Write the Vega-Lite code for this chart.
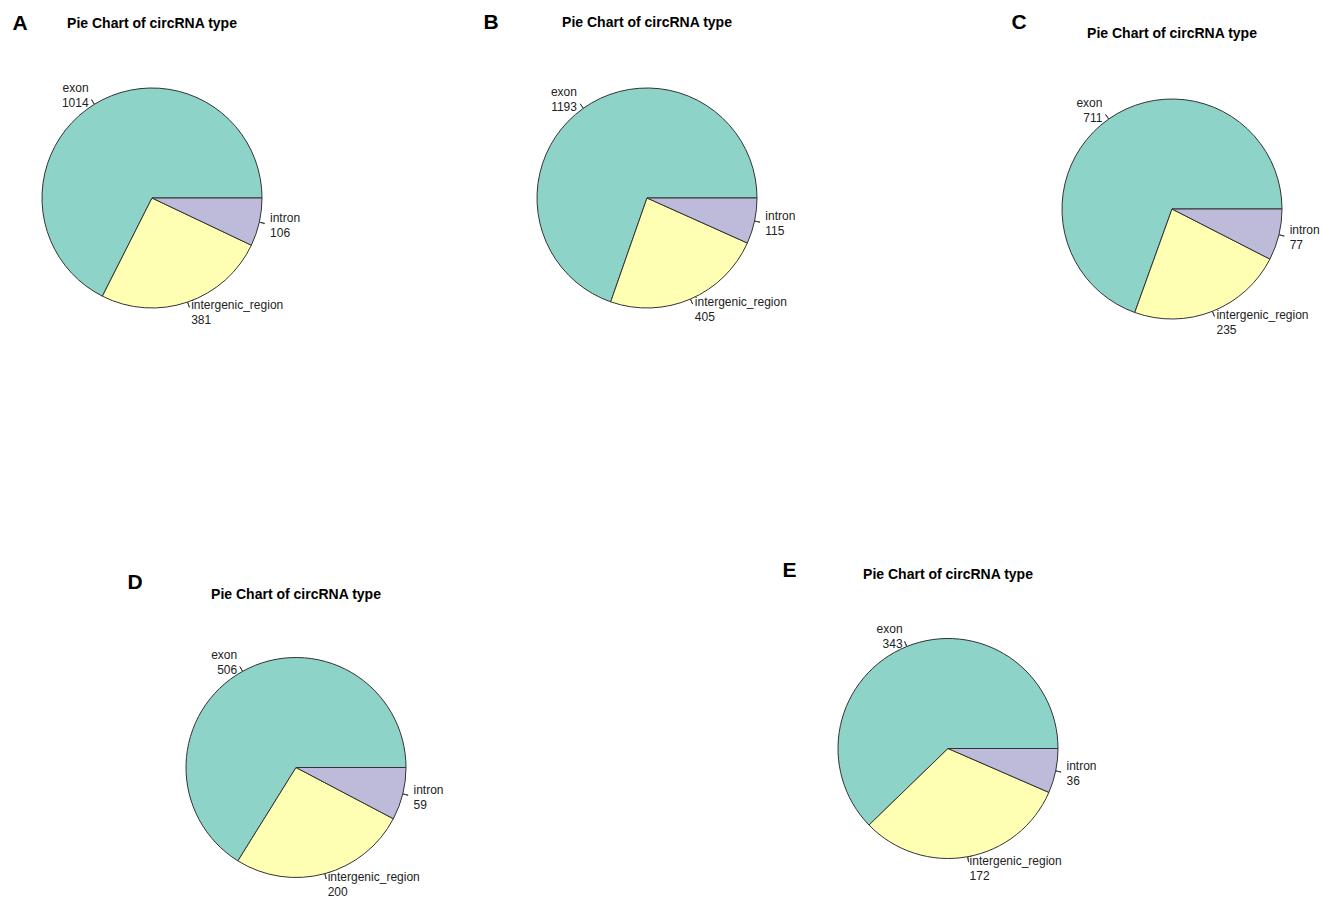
{
  "$schema": "https://vega.github.io/schema/vega-lite/v6.json",
  "background": "white",
  "padding": {"left": 12, "top": 11, "right": 5, "bottom": 5},
  "bounds": "flush",
  "spacing": 550.5,
  "config": {
    "view": {"stroke": null},
    "title": {"font": "Liberation Sans", "fontSize": 14, "fontWeight": "bold", "color": "#000000", "baseline": "alphabetic"},
    "text": {"font": "Liberation Sans", "fontSize": 12, "color": "#222222", "lineBreak": "\n", "lineHeight": 15, "baseline": "middle", "dy": -7}
  },
  "vconcat": [
    {
      "bounds": "flush",
      "spacing": 495,
      "hconcat": [
        {
          "title": {"text": "A", "anchor": "start", "frame": "group", "fontSize": 21, "dx": -19.5, "offset": -16.5},
          "bounds": "flush",
          "vconcat": [
            {
              "title": {"text": "Pie Chart of circRNA type", "offset": 47},
              "width": 240,
              "height": 240,
              "data": {"values": [
                {"type": "exon", "count": 1014},
                {"type": "intergenic_region", "count": 381},
                {"type": "intron", "count": 106}
              ]},
              "transform": [
                {"joinaggregate": [{"op": "sum", "field": "count", "as": "total"}]},
                {"calculate": "indexof(['intron','intergenic_region','exon'], datum.type)", "as": "ord"},
                {"stack": "count", "groupby": [], "sort": [{"field": "ord", "order": "ascending"}], "as": ["c0", "c1"]},
                {"calculate": "datum.c0 / datum.total", "as": "f0"},
                {"calculate": "datum.c1 / datum.total", "as": "f1"},
                {"calculate": "(datum.f0 + datum.f1) / 2", "as": "fm"},
                {"calculate": "datum.type + '\\n' + datum.count", "as": "lbl"}
              ],
              "layer": [
                {
                  "mark": {"type": "arc", "radius": 110, "stroke": "#333333", "strokeWidth": 1},
                  "encoding": {
                    "theta": {"field": "f0", "type": "quantitative", "scale": {"domain": [0, 1], "range": [1.5708, 7.854]}},
                    "theta2": {"field": "f1"},
                    "color": {"field": "type", "type": "nominal", "legend": null,
                      "scale": {"domain": ["exon", "intergenic_region", "intron"], "range": ["#8DD3C7", "#FFFFB3", "#BEBADA"]}}
                  }
                },
                {
                  "mark": {"type": "arc", "radius": 115.5, "radius2": 110, "filled": false, "stroke": "#444444", "strokeWidth": 1},
                  "encoding": {"theta": {"field": "fm", "type": "quantitative", "scale": {"domain": [0, 1], "range": [1.5708, 7.854]}}, "theta2": {"field": "fm"}}
                },
                {
                  "transform": [{"filter": "datum.type == 'exon'"}],
                  "mark": {"type": "text", "radius": 121, "align": "right"},
                  "encoding": {"theta": {"field": "fm", "type": "quantitative", "scale": {"domain": [0, 1], "range": [1.5708, 7.854]}}, "text": {"field": "lbl"}}
                },
                {
                  "transform": [{"filter": "datum.type != 'exon'"}],
                  "mark": {"type": "text", "radius": 121, "align": "left"},
                  "encoding": {"theta": {"field": "fm", "type": "quantitative", "scale": {"domain": [0, 1], "range": [1.5708, 7.854]}}, "text": {"field": "lbl"}}
                }
              ]
            }
          ]
        },
        {
          "title": {"text": "B", "anchor": "start", "frame": "group", "fontSize": 21, "dx": -43.5, "offset": -17.5},
          "bounds": "flush",
          "vconcat": [
            {
              "title": {"text": "Pie Chart of circRNA type", "offset": 48.5},
              "width": 240,
              "height": 240,
              "data": {"values": [
                {"type": "exon", "count": 1193},
                {"type": "intergenic_region", "count": 405},
                {"type": "intron", "count": 115}
              ]},
              "transform": [
                {"joinaggregate": [{"op": "sum", "field": "count", "as": "total"}]},
                {"calculate": "indexof(['intron','intergenic_region','exon'], datum.type)", "as": "ord"},
                {"stack": "count", "groupby": [], "sort": [{"field": "ord", "order": "ascending"}], "as": ["c0", "c1"]},
                {"calculate": "datum.c0 / datum.total", "as": "f0"},
                {"calculate": "datum.c1 / datum.total", "as": "f1"},
                {"calculate": "(datum.f0 + datum.f1) / 2", "as": "fm"},
                {"calculate": "datum.type + '\\n' + datum.count", "as": "lbl"}
              ],
              "layer": [
                {
                  "mark": {"type": "arc", "radius": 110, "stroke": "#333333", "strokeWidth": 1},
                  "encoding": {
                    "theta": {"field": "f0", "type": "quantitative", "scale": {"domain": [0, 1], "range": [1.5708, 7.854]}},
                    "theta2": {"field": "f1"},
                    "color": {"field": "type", "type": "nominal", "legend": null,
                      "scale": {"domain": ["exon", "intergenic_region", "intron"], "range": ["#8DD3C7", "#FFFFB3", "#BEBADA"]}}
                  }
                },
                {
                  "mark": {"type": "arc", "radius": 115.5, "radius2": 110, "filled": false, "stroke": "#444444", "strokeWidth": 1},
                  "encoding": {"theta": {"field": "fm", "type": "quantitative", "scale": {"domain": [0, 1], "range": [1.5708, 7.854]}}, "theta2": {"field": "fm"}}
                },
                {
                  "transform": [{"filter": "datum.type == 'exon'"}],
                  "mark": {"type": "text", "radius": 121, "align": "right"},
                  "encoding": {"theta": {"field": "fm", "type": "quantitative", "scale": {"domain": [0, 1], "range": [1.5708, 7.854]}}, "text": {"field": "lbl"}}
                },
                {
                  "transform": [{"filter": "datum.type != 'exon'"}],
                  "mark": {"type": "text", "radius": 121, "align": "left"},
                  "encoding": {"theta": {"field": "fm", "type": "quantitative", "scale": {"domain": [0, 1], "range": [1.5708, 7.854]}}, "text": {"field": "lbl"}}
                }
              ]
            }
          ]
        },
        {
          "title": {"text": "C", "anchor": "start", "frame": "group", "fontSize": 21, "dx": -10.5, "offset": -5.5},
          "bounds": "flush",
          "vconcat": [
            {
              "title": {"text": "Pie Chart of circRNA type", "offset": 37},
              "width": 300,
              "height": 262,
              "data": {"values": [
                {"type": "exon", "count": 711},
                {"type": "intergenic_region", "count": 235},
                {"type": "intron", "count": 77}
              ]},
              "transform": [
                {"joinaggregate": [{"op": "sum", "field": "count", "as": "total"}]},
                {"calculate": "indexof(['intron','intergenic_region','exon'], datum.type)", "as": "ord"},
                {"stack": "count", "groupby": [], "sort": [{"field": "ord", "order": "ascending"}], "as": ["c0", "c1"]},
                {"calculate": "datum.c0 / datum.total", "as": "f0"},
                {"calculate": "datum.c1 / datum.total", "as": "f1"},
                {"calculate": "(datum.f0 + datum.f1) / 2", "as": "fm"},
                {"calculate": "datum.type + '\\n' + datum.count", "as": "lbl"}
              ],
              "layer": [
                {
                  "mark": {"type": "arc", "radius": 110, "stroke": "#333333", "strokeWidth": 1},
                  "encoding": {
                    "theta": {"field": "f0", "type": "quantitative", "scale": {"domain": [0, 1], "range": [1.5708, 7.854]}},
                    "theta2": {"field": "f1"},
                    "color": {"field": "type", "type": "nominal", "legend": null,
                      "scale": {"domain": ["exon", "intergenic_region", "intron"], "range": ["#8DD3C7", "#FFFFB3", "#BEBADA"]}}
                  }
                },
                {
                  "mark": {"type": "arc", "radius": 115.5, "radius2": 110, "filled": false, "stroke": "#444444", "strokeWidth": 1},
                  "encoding": {"theta": {"field": "fm", "type": "quantitative", "scale": {"domain": [0, 1], "range": [1.5708, 7.854]}}, "theta2": {"field": "fm"}}
                },
                {
                  "transform": [{"filter": "datum.type == 'exon'"}],
                  "mark": {"type": "text", "radius": 121, "align": "right"},
                  "encoding": {"theta": {"field": "fm", "type": "quantitative", "scale": {"domain": [0, 1], "range": [1.5708, 7.854]}}, "text": {"field": "lbl"}}
                },
                {
                  "transform": [{"filter": "datum.type != 'exon'"}],
                  "mark": {"type": "text", "radius": 121, "align": "left"},
                  "encoding": {"theta": {"field": "fm", "type": "quantitative", "scale": {"domain": [0, 1], "range": [1.5708, 7.854]}}, "text": {"field": "lbl"}}
                }
              ]
            }
          ]
        }
      ]
    },
    {
      "bounds": "flush",
      "spacing": 796,
      "hconcat": [
        {
          "title": {"text": "D", "anchor": "start", "frame": "group", "fontSize": 21, "dx": 95.5, "offset": -5},
          "bounds": "flush",
          "vconcat": [
            {
              "title": {"text": "Pie Chart of circRNA type", "offset": 27},
              "width": 528,
              "height": 278,
              "data": {"values": [
                {"type": "exon", "count": 506},
                {"type": "intergenic_region", "count": 200},
                {"type": "intron", "count": 59}
              ]},
              "transform": [
                {"joinaggregate": [{"op": "sum", "field": "count", "as": "total"}]},
                {"calculate": "indexof(['intron','intergenic_region','exon'], datum.type)", "as": "ord"},
                {"stack": "count", "groupby": [], "sort": [{"field": "ord", "order": "ascending"}], "as": ["c0", "c1"]},
                {"calculate": "datum.c0 / datum.total", "as": "f0"},
                {"calculate": "datum.c1 / datum.total", "as": "f1"},
                {"calculate": "(datum.f0 + datum.f1) / 2", "as": "fm"},
                {"calculate": "datum.type + '\\n' + datum.count", "as": "lbl"}
              ],
              "layer": [
                {
                  "mark": {"type": "arc", "radius": 110, "stroke": "#333333", "strokeWidth": 1},
                  "encoding": {
                    "theta": {"field": "f0", "type": "quantitative", "scale": {"domain": [0, 1], "range": [1.5708, 7.854]}},
                    "theta2": {"field": "f1"},
                    "color": {"field": "type", "type": "nominal", "legend": null,
                      "scale": {"domain": ["exon", "intergenic_region", "intron"], "range": ["#8DD3C7", "#FFFFB3", "#BEBADA"]}}
                  }
                },
                {
                  "mark": {"type": "arc", "radius": 115.5, "radius2": 110, "filled": false, "stroke": "#444444", "strokeWidth": 1},
                  "encoding": {"theta": {"field": "fm", "type": "quantitative", "scale": {"domain": [0, 1], "range": [1.5708, 7.854]}}, "theta2": {"field": "fm"}}
                },
                {
                  "transform": [{"filter": "datum.type == 'exon'"}],
                  "mark": {"type": "text", "radius": 121, "align": "right"},
                  "encoding": {"theta": {"field": "fm", "type": "quantitative", "scale": {"domain": [0, 1], "range": [1.5708, 7.854]}}, "text": {"field": "lbl"}}
                },
                {
                  "transform": [{"filter": "datum.type != 'exon'"}],
                  "mark": {"type": "text", "radius": 121, "align": "left"},
                  "encoding": {"theta": {"field": "fm", "type": "quantitative", "scale": {"domain": [0, 1], "range": [1.5708, 7.854]}}, "text": {"field": "lbl"}}
                }
              ]
            }
          ]
        },
        {
          "title": {"text": "E", "anchor": "start", "frame": "group", "fontSize": 21, "dx": -45.5, "offset": -13},
          "bounds": "flush",
          "vconcat": [
            {
              "title": {"text": "Pie Chart of circRNA type", "offset": 41.5},
              "width": 240,
              "height": 240,
              "data": {"values": [
                {"type": "exon", "count": 343},
                {"type": "intergenic_region", "count": 172},
                {"type": "intron", "count": 36}
              ]},
              "transform": [
                {"joinaggregate": [{"op": "sum", "field": "count", "as": "total"}]},
                {"calculate": "indexof(['intron','intergenic_region','exon'], datum.type)", "as": "ord"},
                {"stack": "count", "groupby": [], "sort": [{"field": "ord", "order": "ascending"}], "as": ["c0", "c1"]},
                {"calculate": "datum.c0 / datum.total", "as": "f0"},
                {"calculate": "datum.c1 / datum.total", "as": "f1"},
                {"calculate": "(datum.f0 + datum.f1) / 2", "as": "fm"},
                {"calculate": "datum.type + '\\n' + datum.count", "as": "lbl"}
              ],
              "layer": [
                {
                  "mark": {"type": "arc", "radius": 110, "stroke": "#333333", "strokeWidth": 1},
                  "encoding": {
                    "theta": {"field": "f0", "type": "quantitative", "scale": {"domain": [0, 1], "range": [1.5708, 7.854]}},
                    "theta2": {"field": "f1"},
                    "color": {"field": "type", "type": "nominal", "legend": null,
                      "scale": {"domain": ["exon", "intergenic_region", "intron"], "range": ["#8DD3C7", "#FFFFB3", "#BEBADA"]}}
                  }
                },
                {
                  "mark": {"type": "arc", "radius": 115.5, "radius2": 110, "filled": false, "stroke": "#444444", "strokeWidth": 1},
                  "encoding": {"theta": {"field": "fm", "type": "quantitative", "scale": {"domain": [0, 1], "range": [1.5708, 7.854]}}, "theta2": {"field": "fm"}}
                },
                {
                  "transform": [{"filter": "datum.type == 'exon'"}],
                  "mark": {"type": "text", "radius": 121, "align": "right"},
                  "encoding": {"theta": {"field": "fm", "type": "quantitative", "scale": {"domain": [0, 1], "range": [1.5708, 7.854]}}, "text": {"field": "lbl"}}
                },
                {
                  "transform": [{"filter": "datum.type != 'exon'"}],
                  "mark": {"type": "text", "radius": 121, "align": "left"},
                  "encoding": {"theta": {"field": "fm", "type": "quantitative", "scale": {"domain": [0, 1], "range": [1.5708, 7.854]}}, "text": {"field": "lbl"}}
                }
              ]
            }
          ]
        }
      ]
    }
  ]
}
